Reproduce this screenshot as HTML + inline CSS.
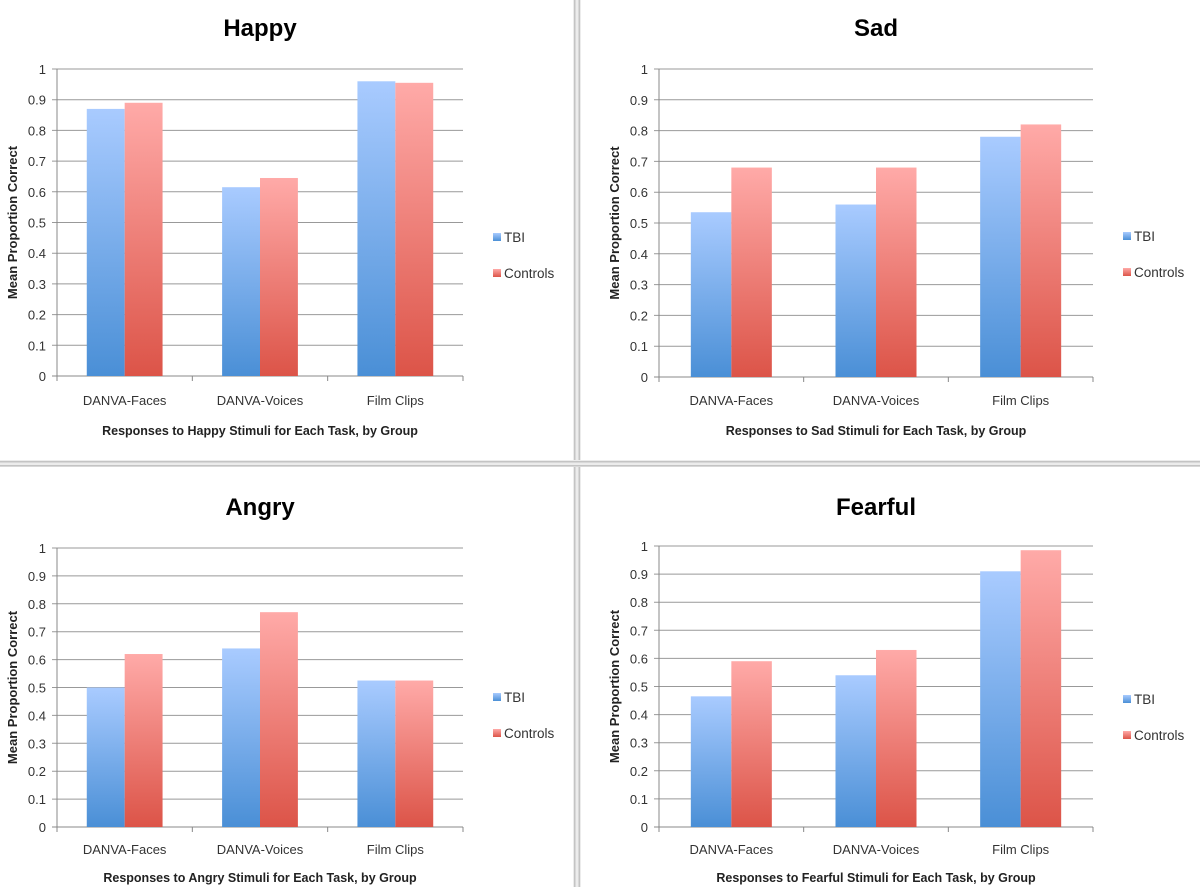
<!DOCTYPE html>
<html><head><meta charset="utf-8"><style>
body{margin:0;background:#fff;font-family:"Liberation Sans",sans-serif}
svg{display:block}
</style></head><body>
<svg id="c" width="1200" height="887" viewBox="0 0 1200 887">
<defs>
<linearGradient id="gb" x1="0" y1="0" x2="0" y2="1"><stop offset="0" stop-color="#a9cbff"/><stop offset="1" stop-color="#4a8fd6"/></linearGradient>
<linearGradient id="gr" x1="0" y1="0" x2="0" y2="1"><stop offset="0" stop-color="#ffaaa8"/><stop offset="1" stop-color="#dc5448"/></linearGradient>
</defs>
<g>
<rect x="573" y="0" width="8" height="887" fill="#ececec"/>
<rect x="574" y="0" width="1.5" height="887" fill="#c4c4c4"/>
<rect x="578.5" y="0" width="1.5" height="887" fill="#c4c4c4"/>
</g>
<g>
<rect x="0" y="460" width="1200" height="7" fill="#ececec"/>
<rect x="0" y="461" width="1200" height="1.5" fill="#c4c4c4"/>
<rect x="0" y="465" width="1200" height="1.5" fill="#c4c4c4"/>
</g>
</svg>
<script>
const categories=["DANVA-Faces","DANVA-Voices","Film Clips"];
const series=["TBI","Controls"];
const titles=["Happy","Sad","Angry","Fearful"];
const tbiValues=[[0.87,0.615,0.96],[0.535,0.56,0.78],[0.50,0.64,0.525],[0.465,0.54,0.91]];
const controlValues=[[0.89,0.645,0.955],[0.68,0.68,0.82],[0.62,0.77,0.525],[0.59,0.63,0.985]];
const yTicks=[0,0.1,0.2,0.3,0.4,0.5,0.6,0.7,0.8,0.9,1];
const panels=[
 {l:57,r:463,t:69,b:376,ty:27,cy:400,xy:430,ly:238},
 {l:659,r:1093,t:69,b:377,ty:27,cy:400,xy:430,ly:237},
 {l:57,r:463,t:548,b:827,ty:506,cy:849,xy:877,ly:698},
 {l:659,r:1093,t:546,b:827,ty:506,cy:849,xy:877,ly:700}];
const svg=document.getElementById('c');
const NS='http://www.w3.org/2000/svg';
function mk(tag,attrs,parent){const e=document.createElementNS(NS,tag);for(const k in attrs)e.setAttribute(k,attrs[k]);(parent||svg).appendChild(e);return e;}
panels.forEach((p,i)=>{
 const g=mk('g',{});
 
 
 const y=v=>p.b-(p.b-p.t)*v;
 const gw=(p.r-p.l)/categories.length;
 const bw=gw*0.28;
 yTicks.forEach(v=>{
  const ln=mk('line',{x1:p.l-5,x2:p.r,y1:y(v),y2:y(v),stroke:v===0?'#888':'#999','stroke-width':1},g);
  
  
  const t=mk('text',{x:p.l-11,y:y(v)+5,'text-anchor':'end','font-size':13,fill:'#333'},g);
  t.textContent=String(v);
  
  
 });
 mk('line',{x1:p.l,x2:p.l,y1:p.t,y2:p.b,stroke:'#888'},g);
 for(let k=0;k<=categories.length;k++){mk('line',{x1:p.l+gw*k,x2:p.l+gw*k,y1:p.b,y2:p.b+5,stroke:'#888'},g);}
 categories.forEach((c,j)=>{
  const gx=p.l+gw*j+(gw-2*bw)/2;
  const b1=mk('rect',{x:gx,y:y(tbiValues[i][j]),width:bw,height:p.b-y(tbiValues[i][j]),fill:'url(#gb)'},g);
  
  
  const b2=mk('rect',{x:gx+bw,y:y(controlValues[i][j]),width:bw,height:p.b-y(controlValues[i][j]),fill:'url(#gr)'},g);
  
  
  const t=mk('text',{x:p.l+gw*(j+0.5),y:p.cy+5,'text-anchor':'middle','font-size':13,fill:'#333'},g);
  t.textContent=c;
  
  
 });
 const tt=mk('text',{x:(p.l+p.r)/2,y:p.ty+9,'text-anchor':'middle','font-size':24,'font-weight':'bold',fill:'#000'},g);
 tt.textContent=titles[i];
 
 
 const xt=mk('text',{x:(p.l+p.r)/2,y:p.xy+5,'text-anchor':'middle','font-size':12.5,'font-weight':'bold',fill:'#222'},g);
 xt.textContent='Responses to '+titles[i]+' Stimuli for Each Task, by Group';
 
 
 const cy=(p.t+p.b)/2, ax=p.l-40;
 const yt=mk('text',{x:ax,y:cy,'text-anchor':'middle','font-size':13,'font-weight':'bold',fill:'#222',transform:`rotate(-90 ${ax} ${cy})`},g);
 yt.textContent='Mean Proportion Correct';
 
 
 series.forEach((s,k)=>{
  const ly=p.ly+k*36;
  const lx=p.r+30;
  const sw=mk('rect',{x:lx,y:ly-5,width:8,height:8,fill:k?'url(#gr)':'url(#gb)'},g);
  
  
  const lt=mk('text',{x:lx+11,y:ly+4,'font-size':13.5,fill:'#333'},g);
  lt.textContent=s;
  
  
 });
});
</script>
</body></html>
